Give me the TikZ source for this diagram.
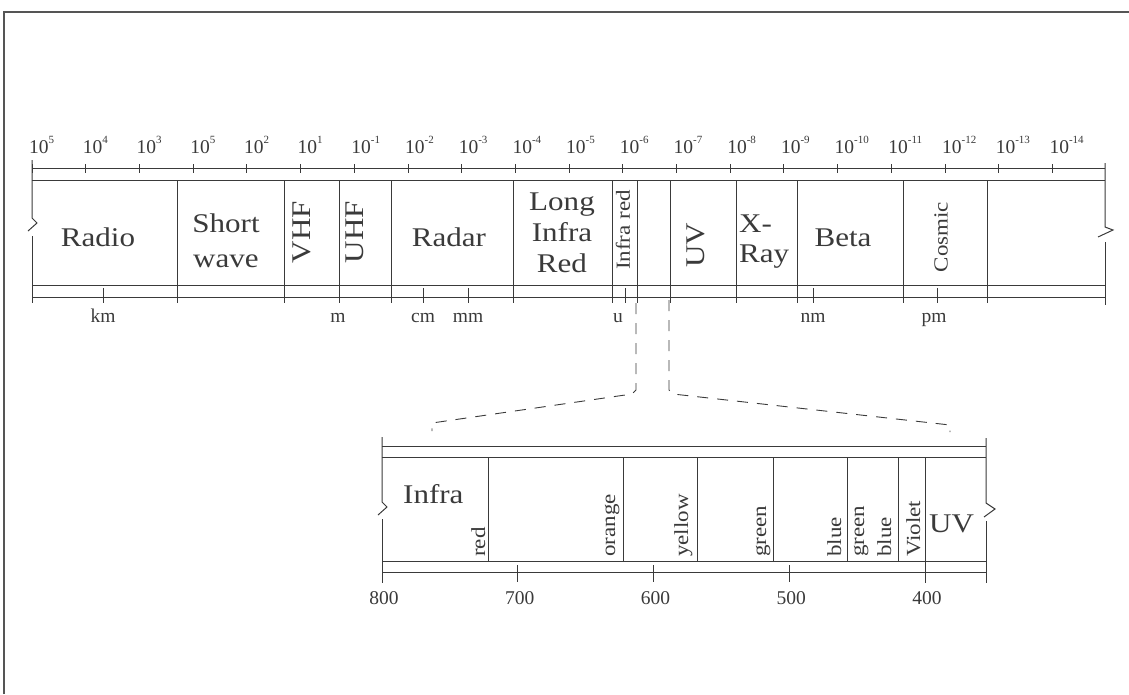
\documentclass[tikz,border=0pt]{standalone}
\usepackage{fontspec}
\setmainfont{Liberation Serif}[FakeStretch=1.15]
\newfontfamily\numfont{Liberation Serif}
\usetikzlibrary{calc}
\definecolor{scanink}{HTML}{3A3A3A}
\definecolor{framegray}{HTML}{555555}
\tikzset{
  bandline/.style={draw=scanink,line width=1pt},
  tickline/.style={draw=scanink,line width=0.8pt},
  biglabel/.style={text=scanink,inner sep=0pt,font=\fontsize{27}{35}\selectfont},
  smalllabel/.style={text=scanink,inner sep=0pt,font=\fontsize{20}{24}\selectfont},
  numlabel/.style={text=scanink,inner sep=0pt,font=\numfont\fontsize{19.5}{21}\selectfont},
  zoomline/.style={draw=scanink,line width=0.9pt,dash pattern=on 11pt off 9pt},
}
\newcommand{\tenpow}[1]{10\raisebox{10pt}{\fontsize{11}{11}\selectfont#1}}
\newcommand{\hue}[3]{%
  \node[smalllabel,rotate=90,anchor=base west] (#1) at (#2,557) {#3};
}

\begin{document}
\begin{tikzpicture}[x=1pt,y=-1pt]
  \useasboundingbox (0,0) rectangle (1129,694);
  \draw[framegray,line width=2pt] (4,694) -- (4,12) -- (1129,12);

  \draw[bandline] (32,168) -- (1105,168);
  \foreach \e [count=\i from 0] in {5,4,3,5,2,1,-1,-2,-3,-4,-5,-6,-7,-8,-9,-10,-11,-12,-13,-14} {
    \draw[tickline] ({32+53.7*\i},164) -- ({32+53.7*\i},173);
    \node[numlabel,anchor=base west] (p\i) at ({29+53.7*\i},153) {\tenpow{\e}};
  }
  \draw[bandline] (32,160) -- (32,218) -- (37,223) -- (28,231);
  \draw[bandline] (32,236) -- (32,303);
  \draw[bandline] (1105,163) -- (1105,227) -- (1113,230) -- (1098,237);
  \draw[bandline] (1105,242) -- (1105,305);
  \draw[bandline] (32,180) -- (1105,180);
  \draw[bandline] (32,285) -- (1105,285);
  \draw[bandline] (32,297) -- (1105,297);
  \foreach \x in {177,284,339,391,513,612,637,670,736,797,903,987}
    \draw[bandline] (\x,180) -- (\x,303);
  \foreach \x in {103,423,468,625,813,937}
    \draw[tickline] (\x,288) -- (\x,303);

  \node[biglabel] (radio) at (98,237) {Radio};
  \node[biglabel,align=center] (short) at (226,241) {Short\\wave};
  \node[biglabel,rotate=90] (vhf) at (302,232) {VHF};
  \node[biglabel,rotate=90] (uhf) at (355,232) {UHF};
  \node[biglabel] (radar) at (449,237) {Radar};
  \node[biglabel,align=center,font=\fontsize{27}{31}\selectfont] (longir) at (562,233) {Long\\Infra\\Red};
  \node[smalllabel,rotate=90] (infrared) at (623,230) {Infra red};
  \node[biglabel,rotate=90] (uv) at (696,245) {UV};
  \node[biglabel,align=left,anchor=west,font=\fontsize{27}{30}\selectfont] (xray) at (739,242) {X-\\Ray};
  \node[biglabel] (beta) at (843,238) {Beta};
  \node[smalllabel,rotate=90] (cosmic) at (941,237) {Cosmic};

  \node[numlabel,anchor=base] (km) at (103,322) {km};
  \node[numlabel,anchor=base] (m) at (338,322) {m};
  \node[numlabel,anchor=base] (cm) at (423,322) {cm};
  \node[numlabel,anchor=base] (mm) at (468,322) {mm};
  \node[numlabel,anchor=base] (u) at (618,322) {u};
  \node[numlabel,anchor=base] (nm) at (813,322) {nm};
  \node[numlabel,anchor=base] (pm) at (934,322) {pm};

  \coordinate (irfoot) at (636,303);
  \coordinate (uvfoot) at (669,300);
  \coordinate (zoomL) at (432,431);
  \coordinate (zoomR) at (950,432);
  \draw[zoomline] (irfoot) -- ++(0,87) -- ++(-4,4) -- ($(zoomL)+(0,-8)$) -- (zoomL);
  \draw[zoomline] (uvfoot) -- ++(0,90) -- ++(4,4) -- ($(zoomR)+(0,-7)$) -- (zoomR);

  \draw[bandline] (382,437) -- (382,502) -- (387,507) -- (378,515);
  \draw[bandline] (382,519) -- (382,583);
  \draw[bandline] (986,438) -- (986,503) -- (995,509) -- (984,517);
  \draw[bandline] (986,521) -- (986,583);
  \draw[bandline] (382,446) -- (986,446);
  \draw[bandline] (382,457) -- (986,457);
  \draw[bandline] (382,561) -- (986,561);
  \draw[bandline] (382,572) -- (986,572);
  \foreach \x in {488,623,697,773,847,898}
    \draw[bandline] (\x,457) -- (\x,561);
  \draw[bandline] (925,457) -- (925,583);
  \foreach \w in {800,700,600,500,400} {
    \pgfmathsetmacro{\wx}{382+(800-\w)*1.3575}
    \draw[tickline] (\wx,565) -- (\wx,582);
    \node[numlabel,anchor=base] (w\w) at (\wx+2,604) {\w};
  }

  \node[biglabel,anchor=base west] (infra) at (403,503) {Infra};
  \hue{red}{485}{red}
  \hue{orange}{615}{orange}
  \hue{yellow}{688}{yellow}
  \hue{green}{766}{green}
  \hue{blue}{841}{blue}
  \hue{bluegreen}{864}{green}
  \hue{blueviolet}{891}{blue}
  \hue{violet}{920}{Violet}
  \node[biglabel,anchor=base west] (uvlow) at (929,532) {UV};
\end{tikzpicture}
\end{document}
